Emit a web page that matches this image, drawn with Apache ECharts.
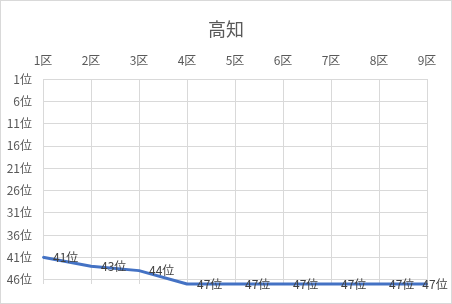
<!DOCTYPE html>
<html><head><meta charset="utf-8">
<script src="https://cdn.jsdelivr.net/npm/echarts@6/dist/echarts.min.js"></script>
<style>
html,body{margin:0;padding:0;background:#fff;}
#c{width:452px;height:304px;box-sizing:border-box;border:1px solid #d9d9d9;}
</style></head>
<body><div id="c"></div>
<script>
const titleText = '高知';
const categories = ['1区','2区','3区','4区','5区','6区','7区','8区','9区'];
const ranks = [41, 43, 44, 47, 47, 47, 47, 47, 47];
const rankMin = 1, rankMax = 47, rankStep = 5;

const chart = echarts.init(document.getElementById('c'));
const font = '"Noto Sans CJK JP", "Noto Sans", sans-serif';
const seriesData = ranks.map((r, i) => {
  const d = {value: r - rankMin};
  if (i === ranks.length - 1) d.label = {position: 'inside', offset: [8, 0]};
  return d;
});
chart.setOption({
  animation: false,
  title: {text: titleText, left: 'center', top: 14,
    textStyle: {color: '#595959', fontSize: 18, fontWeight: 'normal', fontFamily: font}},
  grid: {left: 42, right: 24, top: 78, bottom: 19},
  xAxis: {type: 'category', data: categories, position: 'top', boundaryGap: false,
    axisLine: {show: false}, axisTick: {show: false},
    axisLabel: {color: '#595959', fontSize: 12, margin: 13, fontFamily: font},
    splitLine: {show: true, lineStyle: {color: '#d9d9d9', width: 1}}},
  yAxis: {type: 'value', inverse: true, min: 0, max: rankMax - rankMin, interval: rankStep,
    axisLine: {show: false}, axisTick: {show: false},
    axisLabel: {color: '#595959', fontSize: 12, margin: 11, fontFamily: font, showMaxLabel: false,
      formatter: v => (v + rankMin) + '位'},
    splitLine: {show: true, showMaxLine: false, lineStyle: {color: '#d9d9d9', width: 1}}},
  series: [{type: 'line', data: seriesData, showSymbol: true, symbol: 'circle',
    symbolSize: 2, itemStyle: {color: '#4472C4'}, clip: false,
    lineStyle: {color: '#4472C4', width: 3},
    label: {show: true, position: 'right', distance: 9, color: '#404040', fontSize: 12, fontFamily: font,
      formatter: p => (p.value + rankMin) + '位'}}]
});
</script></body></html>
